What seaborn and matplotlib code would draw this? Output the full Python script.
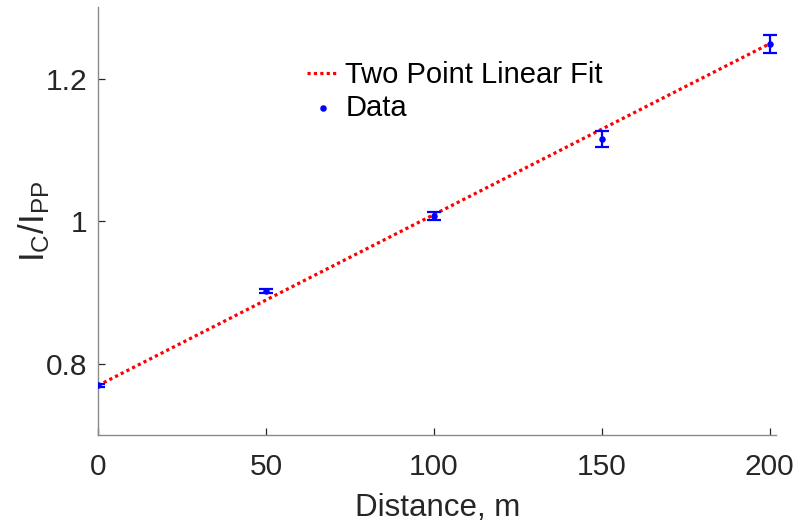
import numpy as np
import pandas as pd
import matplotlib
matplotlib.use("Agg")
import matplotlib.pyplot as plt
import seaborn as sns

# Measured intensity ratio versus distance
distance = [0, 50, 100, 150, 200]
ratio = [0.770, 0.902, 1.0075, 1.115, 1.249]
ratio_err = [0.002, 0.003, 0.005, 0.011, 0.0124]

# Straight line through the first and last measurements
fit_x = [distance[0], distance[-1]]
fit_y = [ratio[0], ratio[-1]]

x_ticks = [0, 50, 100, 150, 200]
y_ticks = [0.8, 1.0, 1.2]
y_tick_labels = ["0.8", "1", "1.2"]

sns.set_theme(style="ticks")
plt.rcParams["font.family"] = ["Liberation Sans", "DejaVu Sans"]
plt.rcParams["mathtext.fontset"] = "custom"
plt.rcParams["mathtext.rm"] = "Liberation Sans"
plt.rcParams["mathtext.it"] = "Liberation Sans"

fig = plt.figure(figsize=(8.0, 5.24), dpi=100)
ax = fig.add_axes([0.1225, 0.169, 0.848, 0.817])

df = pd.DataFrame({"distance": distance, "ratio": ratio, "err": ratio_err})
fit_df = pd.DataFrame({"distance": fit_x, "ratio": fit_y})

sns.lineplot(data=fit_df, x="distance", y="ratio", ax=ax, color="#ff0000",
             linewidth=2.3, linestyle=(0, (1, 1)), label="Two Point Linear Fit",
             zorder=3)
ax.errorbar(df["distance"], df["ratio"], yerr=df["err"], fmt="none",
            ecolor="#0000ff", elinewidth=1.6, capsize=5.3, capthick=1.6,
            zorder=4)
sns.scatterplot(data=df, x="distance", y="ratio", ax=ax, color="#0000ff",
                marker="o", s=22, edgecolor="#0000ff", linewidth=0,
                label="Data", zorder=5)

ax.set_xlim(0, 202)
ax.set_ylim(0.7, 1.3)
ax.set_xticks(x_ticks)
ax.set_xticklabels([str(v) for v in x_ticks])
ax.set_yticks(y_ticks)
ax.set_yticklabels(y_tick_labels)

ax.set_xlabel("Distance, m", fontsize=22.5, color="#262626", labelpad=8)
ax.set_ylabel(r"$\mathregular{I_C/I_{PP}}$", fontsize=25, color="#262626")
ax.yaxis.set_label_coords(-0.068, 0.5)

sns.despine(ax=ax)
for side in ("left", "bottom"):
    ax.spines[side].set_color("#8a8a8a")
    ax.spines[side].set_linewidth(1.0)
ax.tick_params(direction="in", length=5, width=0.9, color="#262626",
               labelsize=21.5, labelcolor="#262626")
ax.tick_params(axis="x", pad=13)
ax.tick_params(axis="y", pad=8)

leg = ax.legend(loc="upper left", bbox_to_anchor=(0.308, 0.874), frameon=False,
                fontsize=21, handlelength=1.07, handletextpad=0.24,
                labelspacing=0.15, borderaxespad=0, borderpad=0)
for t in leg.get_texts():
    t.set_color("#000000")

fig.savefig("out.png", dpi=100)
